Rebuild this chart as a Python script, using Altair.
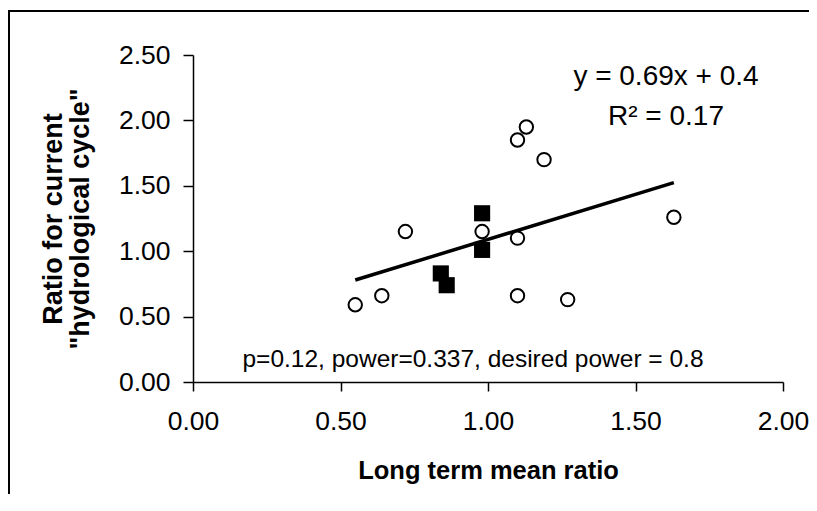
import altair as alt
import pandas as pd

# data
circle_x = [0.55, 0.64, 0.72, 0.98, 1.10, 1.10, 1.10, 1.13, 1.19, 1.27, 1.63]
circle_y = [0.59, 0.66, 1.15, 1.15, 1.85, 1.10, 0.66, 1.95, 1.70, 0.63, 1.26]
square_x = [0.98, 0.98, 0.84, 0.86]
square_y = [1.29, 1.01, 0.83, 0.74]
slope = 0.69
intercept = 0.4
x_ticks = [0.0, 0.5, 1.0, 1.5, 2.0]
y_ticks = [0.0, 0.5, 1.0, 1.5, 2.0, 2.5]
eq_text = "y = 0.69x + 0.4"
r2_text = "R² = 0.17"
p_text = "p=0.12, power=0.337, desired power = 0.8"

FONT = "Liberation Sans"

circles = pd.DataFrame({"x": circle_x, "y": circle_y})
squares = pd.DataFrame({"x": square_x, "y": square_y})
all_x = circle_x + square_x
xmin, xmax = min(all_x), max(all_x)
trend = pd.DataFrame({"x": [xmin, xmax], "y": [slope * xmin + intercept, slope * xmax + intercept]})

xscale = alt.Scale(domain=[0, 2], nice=False, zero=False)
yscale = alt.Scale(domain=[0, 2.5], nice=False, zero=False)

xaxis = alt.Axis(
    title="Long term mean ratio", values=x_ticks, format=".2f", grid=False,
    labelFontSize=26.5, labelFont=FONT, labelColor="black", labelPadding=17,
    tickSize=9, tickColor="black", domainColor="black", domainWidth=1.5, tickWidth=1.5,
    titleFont=FONT, titleFontSize=25.5, titleFontWeight="bold", titleColor="black",
    titleBaseline="alphabetic", titleY=96, labelFlush=False,
)
yaxis = alt.Axis(
    title=["Ratio for current", '"hydrological cycle"'], values=y_ticks, format=".2f", grid=False,
    labelFontSize=26.5, labelFont=FONT, labelColor="black", labelPadding=13,
    tickSize=10, tickColor="black", domainColor="black", domainWidth=1.5, tickWidth=1.5,
    titleFont=FONT, titleFontSize=27, titleFontWeight="bold", titleColor="black",
    titleAngle=270, titleBaseline="bottom", titleX=-126, titleLineHeight=27, labelFlush=False,
)

base_x = alt.X("x:Q", scale=xscale, axis=xaxis)
base_y = alt.Y("y:Q", scale=yscale, axis=yaxis)

one = pd.DataFrame({"a": [0]})
frame_top = alt.Chart(one).mark_rect(color="black", strokeWidth=0, clip=False).encode(
    x=alt.value(-185), x2=alt.value(640), y=alt.value(-45), y2=alt.value(-43)
)
frame_left = alt.Chart(one).mark_rect(color="black", strokeWidth=0, clip=False).encode(
    x=alt.value(-185), x2=alt.value(-183), y=alt.value(-45), y2=alt.value(470)
)

line = alt.Chart(trend).mark_line(color="black", strokeWidth=3.5).encode(x=base_x, y=base_y)

circ = alt.Chart(circles).mark_point(
    shape="circle", size=180, filled=False, fill="white", fillOpacity=1,
    stroke="black", strokeWidth=2, opacity=1
).encode(x=base_x, y=base_y)

sq = alt.Chart(squares).mark_point(
    shape="square", size=260, filled=True, color="black", opacity=1
).encode(x=base_x, y=base_y)

def label(text, x, y, size):
    return alt.Chart(pd.DataFrame({"t": [text]})).mark_text(
        font=FONT, fontSize=size, color="black", align="center", baseline="alphabetic"
    ).encode(text="t:N", x=alt.value(x), y=alt.value(y))

eq = label(eq_text, 473, 30, 28)
r2 = label(r2_text, 473, 70, 28)
pt = label(p_text, 280, 312, 24.5)

chart = alt.layer(frame_top, frame_left, line, circ, sq, eq, r2, pt).properties(
    width=590, height=327,
    autosize=alt.AutoSizeParams(type="none"),
    padding={"left": 185, "top": 47, "right": 26, "bottom": 112},
    background="white",
).configure_view(stroke=None)

chart.save("out.html", embed_options={"renderer": "svg", "actions": False})
